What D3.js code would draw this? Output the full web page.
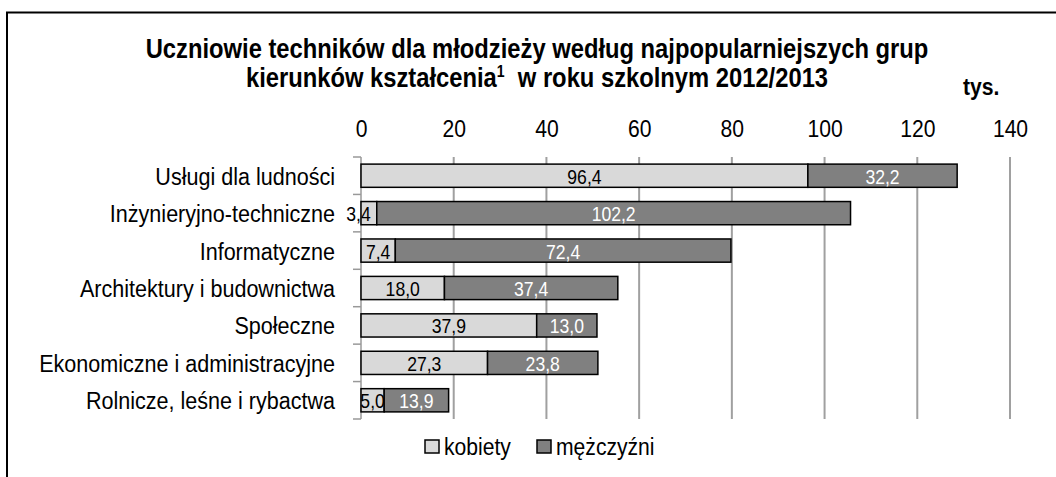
<!DOCTYPE html>
<html>
<head>
<meta charset="utf-8">
<script src="https://cdn.jsdelivr.net/npm/d3@7"></script>
<style>
  body { margin: 0; background: #fff; }
  svg text { font-family: "Liberation Sans", Arial, sans-serif; }
</style>
</head>
<body>
<svg id="chart" width="1056" height="477"></svg>
<script>
// data (tys. uczniów)
let categories = [
  "Usługi dla ludności",
  "Inżynieryjno-techniczne",
  "Informatyczne",
  "Architektury i budownictwa",
  "Społeczne",
  "Ekonomiczne i administracyjne",
  "Rolnicze, leśne i rybactwa"
];
let kobiety = [96.4, 3.4, 7.4, 18.0, 37.9, 27.3, 5.0];
let mezczyzni = [32.2, 102.2, 72.4, 37.4, 13.0, 23.8, 13.9];
let xTicks = [0, 20, 40, 60, 80, 100, 120, 140];
let seriesNames = ["kobiety", "mężczyźni"];
let seriesColors = ["#d9d9d9", "#808080"];
let labelColors = ["#000", "#fff"];

// the original uses a narrow font, so squeeze text sideways
let sx = 0.88;
function squeeze(px, py) {
  return "translate(" + px + "," + py + ") scale(" + sx + ",1)";
}

let svg = d3.select("#chart");

// frame round the chart (goes off to the right and bottom)
svg.append("path")
  .attr("d", "M7,477 V12.5 H1056")
  .attr("fill", "none")
  .attr("stroke", "#000")
  .attr("stroke-width", 2);

// title
let title = svg.append("text")
  .attr("transform", squeeze(537, 0))
  .attr("text-anchor", "middle")
  .attr("font-weight", "bold")
  .attr("font-size", 27);
title.append("tspan").attr("x", 0).attr("y", 58)
  .text("Uczniowie techników dla młodzieży według najpopularniejszych grup");
let line2 = title.append("tspan").attr("x", 0).attr("y", 87);
line2.append("tspan").text("kierunków kształcenia");
line2.append("tspan").attr("font-size", 16).attr("dy", -10).text("1");
line2.append("tspan").attr("dy", 10).text("\u00a0 w roku szkolnym 2012/2013");

svg.append("text")
  .attr("transform", squeeze(963, 95))
  .attr("font-weight", "bold")
  .attr("font-size", 24)
  .text("tys.");

// scales
let x = d3.scaleLinear().domain([0, 140]).range([361, 1010]);
let y = d3.scaleBand().domain(categories).range([157, 419])
  .paddingInner(0.38).paddingOuter(0.19);

// gridlines
svg.append("g")
  .selectAll("line")
  .data(xTicks.slice(1))
  .join("line")
    .attr("x1", d => x(d)).attr("x2", d => x(d))
    .attr("y1", 157).attr("y2", 419)
    .attr("stroke", "#a0a0a0")
    .attr("stroke-width", 2);

// top tick labels
let xAxis = svg.append("g")
  .attr("transform", "translate(0,137)")
  .call(d3.axisTop(x).tickValues(xTicks).tickSize(0).tickPadding(0));
xAxis.select(".domain").remove();
xAxis.selectAll("text")
  .attr("font-size", 24)
  .attr("fill", "#000")
  .attr("dy", 0)
  .attr("y", 0)
  .attr("transform", "scale(" + sx + ",1)")
  .style("font-family", null);

// left category axis: line with ticks between bands
let step = y.step();
let bounds = d3.range(categories.length + 1).map(i => 157 + i * step);
svg.append("line")
  .attr("x1", x(0)).attr("x2", x(0))
  .attr("y1", 157).attr("y2", 419)
  .attr("stroke", "#999").attr("stroke-width", 1.5);
svg.append("g")
  .selectAll("line")
  .data(bounds)
  .join("line")
    .attr("x1", x(0) - 8).attr("x2", x(0))
    .attr("y1", d => d).attr("y2", d => d)
    .attr("stroke", "#999").attr("stroke-width", 1.5);

svg.append("g")
  .selectAll("text")
  .data(categories)
  .join("text")
    .attr("transform", d => squeeze(335, y(d) + y.bandwidth() / 2 + 9))
    .attr("text-anchor", "end")
    .attr("font-size", 24.5)
    .text(d => d);

// stacked bars
let rows = categories.map((c, i) => ({ cat: c, kobiety: kobiety[i], mezczyzni: mezczyzni[i] }));
let stack = d3.stack().keys(["kobiety", "mezczyzni"])(rows);

let fmt = v => d3.format(".1f")(v).replace(".", ",");

stack.forEach(function(layer, k) {
  let g = svg.append("g");
  g.selectAll("rect")
    .data(layer)
    .join("rect")
      .attr("x", d => x(d[0]))
      .attr("y", d => y(d.data.cat))
      .attr("width", d => x(d[1]) - x(d[0]))
      .attr("height", y.bandwidth())
      .attr("fill", seriesColors[k])
      .attr("stroke", "#000")
      .attr("stroke-width", 1.5);
  g.selectAll("text")
    .data(layer)
    .join("text")
      .attr("transform", function(d) {
        let w = x(d[1]) - x(d[0]);
        // very thin segment: label pushed out to the left like in the original
        let px = w < 20 ? x(d[1]) - 6 : (x(d[0]) + x(d[1])) / 2;
        return squeeze(px, y(d.data.cat) + y.bandwidth() / 2 + 8);
      })
      .attr("text-anchor", d => (x(d[1]) - x(d[0]) < 20) ? "end" : "middle")
      .attr("font-size", 20)
      .attr("fill", labelColors[k])
      .text(d => fmt(d[1] - d[0]));
});

// legend
let legend = svg.append("g");
let legX = [425, 537];
seriesNames.forEach(function(name, k) {
  legend.append("rect")
    .attr("x", legX[k]).attr("y", 440)
    .attr("width", 14).attr("height", 13)
    .attr("fill", seriesColors[k])
    .attr("stroke", "#000")
    .attr("stroke-width", 1.5);
  legend.append("text")
    .attr("transform", squeeze(legX[k] + 19, 455))
    .attr("font-size", 24)
    .text(name);
});
</script>
</body>
</html>
